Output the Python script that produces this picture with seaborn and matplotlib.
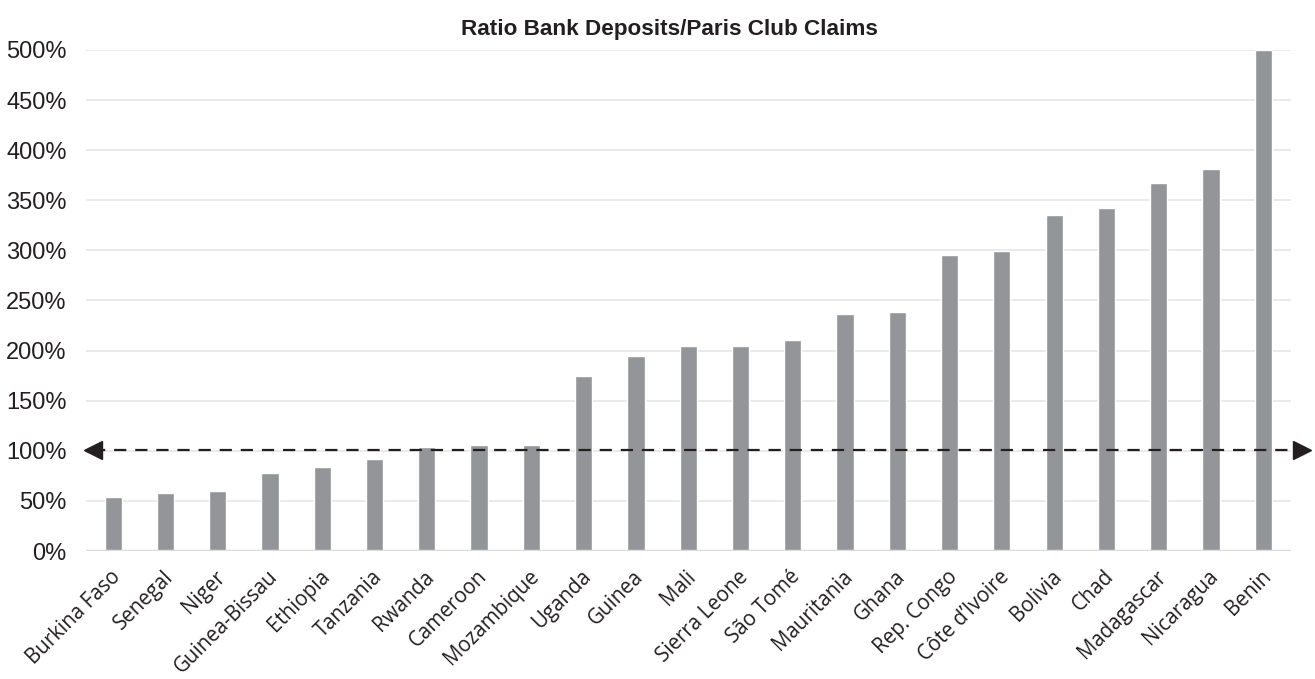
import matplotlib
matplotlib.use("Agg")
import matplotlib.pyplot as plt
import matplotlib.transforms as mtransforms
import seaborn as sns
import pandas as pd
from matplotlib.ticker import FuncFormatter

countries = ["Burkina Faso", "Senegal", "Niger", "Guinea-Bissau", "Ethiopia", "Tanzania",
             "Rwanda", "Cameroon", "Mozambique", "Uganda", "Guinea", "Mali", "Sierra Leone",
             "São Tomé", "Mauritania", "Ghana", "Rep. Congo", "Côte d’Ivoire", "Bolivia",
             "Chad", "Madagascar", "Nicaragua", "Benin"]
ratios = [54, 58, 60, 78, 84, 92, 104, 106, 106, 175, 195, 205, 205, 211, 237, 239,
          295, 299, 335, 342, 367, 381, 500]
threshold = 101
yticks = [0, 50, 100, 150, 200, 250, 300, 350, 400, 450, 500]
title = "Ratio Bank Deposits/Paris Club Claims"

sns.set_style("white")
plt.rcParams["font.family"] = ["Liberation Sans", "DejaVu Sans"]

df = pd.DataFrame({"country": countries, "ratio": ratios})

fig = plt.figure(figsize=(13.15, 6.79), dpi=100)
ax = fig.add_axes([0.0654, 0.1885, 0.9163, 0.7379])

sns.barplot(data=df, x="country", y="ratio", color="#939598", width=0.33,
            saturation=1, ax=ax, zorder=2)

ax.set_ylim(0, 500)
ax.set_xlim(-0.52, len(countries) - 0.47)
ax.set_yticks(yticks)
ax.yaxis.set_major_formatter(FuncFormatter(lambda v, p: f"{int(v)}%"))
ax.grid(axis="y", color="#e6e6e6", linewidth=1.2, zorder=0)
ax.axhline(0, color="#dcdcdc", linewidth=2.5, zorder=3)
for s in ax.spines.values():
    s.set_visible(False)
ax.tick_params(axis="y", length=0, pad=14, labelsize=17, labelcolor="#231f20")
ax.tick_params(axis="x", length=0, pad=11)
ax.set_xlabel("")
ax.set_ylabel("")
ax.set_xticks(range(len(countries)))
ax.set_xticklabels(countries, rotation=45, ha="right", rotation_mode="anchor",
                   fontsize=14.8, family=["Open Sans", "DejaVu Sans"], color="#231f20")
offset = mtransforms.ScaledTranslation(-3 / 100, 0, fig.dpi_scale_trans)
for lbl in ax.get_xticklabels():
    lbl.set_transform(lbl.get_transform() + offset)

# dashed 100% threshold line with arrowheads
tr = ax.get_yaxis_transform()
ax.plot([0.006, 1.008], [threshold, threshold], transform=tr, color="#231f20",
        linestyle=(0, (5.5, 4)), linewidth=1.6, clip_on=False, zorder=4)
ax.plot([0.006], [threshold], marker="<", markersize=13, color="#231f20",
        transform=tr, clip_on=False, zorder=5, linestyle="none")
ax.plot([1.009], [threshold], marker=">", markersize=13, color="#231f20",
        transform=tr, clip_on=False, zorder=5, linestyle="none")

ax.set_title(title, fontsize=16.2, fontweight="bold", color="#231f20", x=0.484, pad=11)

fig.savefig("out.png", dpi=100)
